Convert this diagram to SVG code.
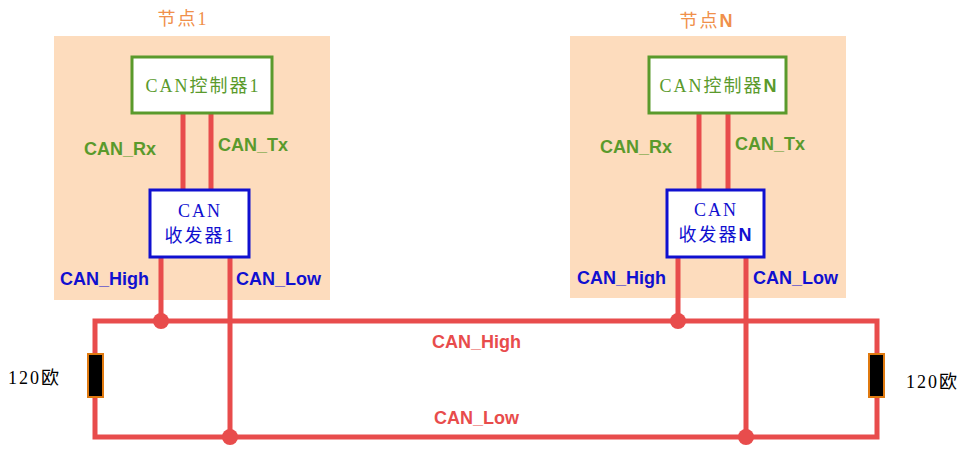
<svg xmlns="http://www.w3.org/2000/svg" width="970" height="473" viewBox="0 0 970 473">
<style>
.bg{fill:#fddcbd}
.ctl{fill:#fff;stroke:#5a9a2c;stroke-width:3}
.trx{fill:#fff;stroke:#1010d0;stroke-width:3}
.w{stroke:#e84c4c;stroke-width:5;fill:none}
.dot{fill:#e84c4c}
.res{fill:#000;stroke:#e07a10;stroke-width:2}
.s{font-family:"Liberation Serif","Noto Sans CJK SC",serif;font-size:18px;letter-spacing:2px}
.b{font-family:"Liberation Sans",Arial,sans-serif;font-weight:bold;font-size:18px}
</style>
<rect width="970" height="473" fill="#fff"/>
<g id="node1">
<rect class="bg" x="54" y="36" width="276" height="264"/>
<text class="s" x="183" y="25" text-anchor="middle" fill="#f0904a" font-size="21" letter-spacing="4">节点1</text>
</g>
<g id="nodeN">
<rect class="bg" x="570" y="36" width="276" height="262"/>
<text class="s" x="707" y="27" text-anchor="middle" fill="#f0904a" font-size="21" letter-spacing="4">节点<tspan font-weight="bold" font-family="Liberation Sans">N</tspan></text>
</g>
<g id="connectors">
<path class="w" d="M183 113V190M211 113V190M699 113V190M728 113V190"/>
<path class="w" d="M161 257V321M230 257V437M678 257V321M746 257V437"/>
<path class="w" d="M95 354V321H877V354M95 397V437H877V397"/>
<circle class="dot" cx="161" cy="321" r="8"/><circle class="dot" cx="678" cy="321" r="8"/>
<circle class="dot" cx="230" cy="437" r="8"/><circle class="dot" cx="746" cy="437" r="8"/>
<text class="b" x="84" y="155" fill="#5a9a2c">CAN_Rx</text>
<text class="b" x="218" y="151" fill="#5a9a2c">CAN_Tx</text>
<text class="b" x="600" y="153" fill="#5a9a2c">CAN_Rx</text>
<text class="b" x="735" y="150" fill="#5a9a2c">CAN_Tx</text>
<text class="b" x="60" y="285" fill="#1010d0">CAN_High</text>
<text class="b" x="236" y="285" fill="#1010d0">CAN_Low</text>
<text class="b" x="577" y="284" fill="#1010d0">CAN_High</text>
<text class="b" x="753" y="284" fill="#1010d0">CAN_Low</text>
<text class="b" x="432" y="348" fill="#e84c4c">CAN_High</text>
<text class="b" x="434" y="424" fill="#e84c4c">CAN_Low</text>
</g>
<g id="ctl1"><rect class="ctl" x="132" y="57" width="140" height="56"/><text class="s" x="203" y="92" text-anchor="middle" fill="#5a9a2c">CAN控制器1</text></g>
<g id="ctlN"><rect class="ctl" x="649" y="57" width="137" height="56"/><text class="s" x="719" y="92" text-anchor="middle" fill="#5a9a2c">CAN控制器<tspan font-weight="bold" font-family="Liberation Sans">N</tspan></text></g>
<g id="trx1"><rect class="trx" x="150" y="190" width="99" height="67"/><text class="s" x="200" y="217" text-anchor="middle" fill="#1010d0" font-size="17">CAN</text><text class="s" x="200" y="242" text-anchor="middle" fill="#1010d0" font-size="17">收发器1</text></g>
<g id="trxN"><rect class="trx" x="667" y="190" width="97" height="67"/><text class="s" x="716" y="216" text-anchor="middle" fill="#1010d0" font-size="17">CAN</text><text class="s" x="716" y="241" text-anchor="middle" fill="#1010d0" font-size="17">收发器<tspan font-weight="bold" font-family="Liberation Sans">N</tspan></text></g>
<g id="r1"><rect class="res" x="88" y="354" width="15" height="43"/><text class="s" x="8" y="384" fill="#000" letter-spacing="0">120欧</text></g>
<g id="r2"><rect class="res" x="869" y="354" width="15" height="43"/><text class="s" x="906" y="388" fill="#000" letter-spacing="0">120欧</text></g>
</svg>
